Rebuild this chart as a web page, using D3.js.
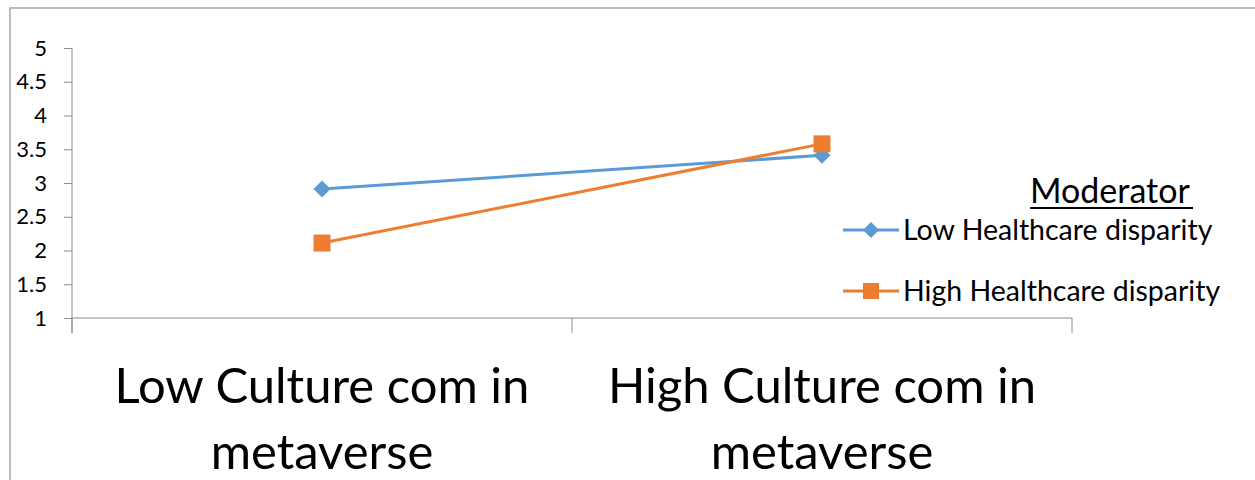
<!DOCTYPE html>
<html><head><meta charset="utf-8">
<script src="https://cdn.jsdelivr.net/npm/d3@7"></script>
<style>html,body{margin:0;padding:0;background:#fff;}svg{display:block;}</style>
</head><body>
<script>
const categories = [["Low Culture com in","metaverse"],["High Culture com in","metaverse"]];
const seriesNames = ["Low Healthcare disparity","High Healthcare disparity"];
const lowValues = [2.91, 3.41];
const highValues = [2.11, 3.58];
const yTicks = [1,1.5,2,2.5,3,3.5,4,4.5,5];
const legendTitle = "Moderator";

const W=1255,H=480;
const FONT="Lato, 'Open Sans', sans-serif";
const svg=d3.select("body").append("svg").attr("width",W).attr("height",H);
svg.append("rect").attr("x",10).attr("y",8).attr("width",W).attr("height",H)
  .attr("fill","#fff").attr("stroke","#a6a6a6").attr("stroke-width",1.5);

const x0=72,x1=1072,yTop=48,yBot=318;
const x=d3.scaleBand().domain(d3.range(categories.length)).range([x0,x1]);
const y=d3.scaleLinear().domain([1,5]).range([yBot,yTop]);
const axisCol="#8c8c8c";

// y axis
const ya=svg.append("g").attr("transform",`translate(${x0},0)`)
  .call(d3.axisLeft(y).tickValues(yTicks).tickSize(8).tickPadding(17).tickFormat(d3.format("")));
ya.select(".domain").remove();
ya.selectAll(".tick line").attr("stroke",axisCol);
ya.selectAll(".tick text").attr("font-family",FONT).attr("font-size",22).attr("fill","#000");
svg.append("line").attr("x1",x0).attr("x2",x0).attr("y1",yTop).attr("y2",yBot+15).attr("stroke",axisCol);

// x axis
svg.append("line").attr("x1",x0).attr("x2",x1).attr("y1",yBot).attr("y2",yBot).attr("stroke",axisCol);
const bounds=[x0, ...categories.map((c,i)=>x(i)+x.bandwidth())];
svg.selectAll(".xt").data(bounds).join("line").attr("x1",d=>d).attr("x2",d=>d)
  .attr("y1",yBot).attr("y2",yBot+15).attr("stroke",axisCol);
const cx=i=>x(i)+x.bandwidth()/2;
categories.forEach((lines,i)=>{
  const t=svg.append("text").attr("text-anchor","middle").attr("font-family",FONT)
    .attr("font-size",49).attr("fill","#000");
  lines.forEach((l,j)=>t.append("tspan").attr("x",cx(i)).attr("y",403+j*66).text(l));
});

const colors=["#5b9bd5","#ed7d31"];
const data=[lowValues,highValues];
const line=d3.line().x((d,i)=>cx(i)).y(d=>y(d));
function drawMarker(g,k,px,py,s){
  if(k===0){
    g.append("path").attr("d",`M${px},${py-s}L${px+s},${py}L${px},${py+s}L${px-s},${py}Z`).attr("fill",colors[0]);
  } else {
    g.append("rect").attr("x",px-s).attr("y",py-s).attr("width",2*s).attr("height",2*s).attr("fill",colors[1]);
  }
}
data.forEach((vals,k)=>{
  svg.append("path").datum(vals).attr("d",line).attr("fill","none")
    .attr("stroke",colors[k]).attr("stroke-width",3);
});
data.forEach((vals,k)=>{
  const g=svg.append("g");
  vals.forEach((v,i)=>drawMarker(g,k,cx(i),y(v),8.5));
});

// legend
svg.append("text").attr("x",1030).attr("y",203).attr("font-family",FONT).attr("font-size",34)
  .attr("fill","#000").text(legendTitle);
svg.append("line").attr("x1",1030).attr("x2",1193).attr("y1",208).attr("y2",208).attr("stroke","#000").attr("stroke-width",2);
const legY=[230,291];
seriesNames.forEach((n,k)=>{
  const g=svg.append("g");
  g.append("line").attr("x1",843).attr("x2",899).attr("y1",legY[k]).attr("y2",legY[k])
    .attr("stroke",colors[k]).attr("stroke-width",3);
  drawMarker(g,k,871,legY[k],8);
  g.append("text").attr("x",903).attr("y",legY[k]).attr("dy","0.35em").attr("font-family",FONT)
    .attr("font-size",28.5).attr("fill","#000").text(n);
});
</script>
</body></html>
